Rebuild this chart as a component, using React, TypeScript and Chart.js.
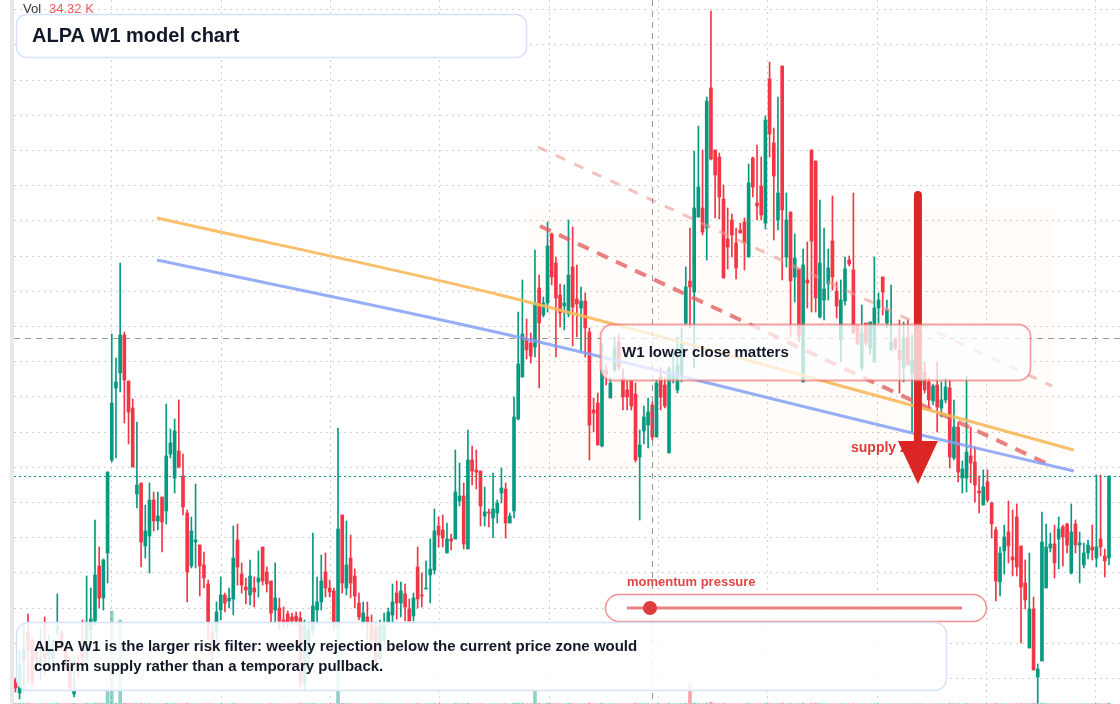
import React, { useEffect, useRef } from "react";
import { Chart, registerables } from "chart.js";
Chart.register(...registerables);

// Weekly candles (price in cents)
const OPEN = [
  24, 11, 44, 72, 62, 51, 39, 52, 49, 46,
  74, 71, 56, 41, 10, 42, 52, 46, 74, 83,
  138, 106, 151, 244, 316, 331, 369, 323, 296, 210,
  221, 158, 168, 204, 183, 207, 193, 250, 226, 253,
  228, 191, 138, 162, 159, 139, 120, 71, 72, 94,
  109, 103, 105, 164, 130, 117, 109, 116, 122, 157,
  132, 123, 94, 96, 84, 90, 87, 88, 86, 20,
  46, 74, 94, 102, 132, 116, 113, 82, 189, 116,
  146, 128, 101, 82, 87, 82, 77, 46, 64, 82,
  89, 111, 101, 110, 95, 88, 137, 109, 115, 129,
  134, 178, 174, 151, 165, 165, 203, 208, 155, 244,
  234, 233, 188, 192, 186, 191, 211, 215, 181, 193,
  285, 327, 364, 361, 357, 416, 389, 401, 470, 441,
  409, 398, 390, 437, 405, 396, 403, 372, 294, 301,
  258, 334, 306, 334, 362, 326, 314, 323, 310, 247,
  273, 279, 299, 267, 327, 319, 251, 324, 314, 327,
  381, 423, 412, 487, 496, 476, 616, 554, 547, 505,
  465, 484, 461, 474, 482, 447, 546, 501, 518, 481,
  625, 561, 484, 638, 447, 492, 427, 435, 322, 424,
  554, 543, 387, 404, 420, 463, 413, 364, 403, 444,
  434, 379, 336, 381, 356, 342, 396, 427, 381, 354,
  364, 354, 336, 366, 331, 349, 319, 332, 322, 303,
  319, 296, 304, 316, 246, 277, 226, 226, 248, 242,
  213, 199, 222, 201, 174, 122, 153, 172, 147, 187,
  158, 121, 56, 95, 27, 43, 116, 156, 160, 165,
  177, 180, 131, 180, 159, 139, 151, 157, 146, 165,
  148, 146,
];
const HIGH = [
  26, 54, 79, 90, 66, 56, 76, 87, 69, 64,
  110, 74, 59, 46, 47, 49, 84, 128, 116, 184,
  157, 145, 232, 370, 346, 441, 372, 323, 305, 282,
  221, 199, 221, 212, 212, 207, 300, 275, 285, 304,
  250, 194, 187, 220, 159, 152, 124, 79, 102, 127,
  111, 116, 178, 180, 141, 126, 144, 127, 153, 157,
  137, 123, 141, 106, 97, 93, 91, 92, 92, 84,
  82, 171, 127, 149, 151, 124, 116, 276, 189, 183,
  169, 135, 111, 102, 102, 89, 82, 84, 91, 96,
  120, 123, 122, 120, 105, 111, 157, 131, 143, 165,
  195, 187, 189, 181, 170, 254, 241, 221, 274, 258,
  254, 233, 217, 195, 231, 204, 236, 221, 191, 307,
  392, 424, 385, 371, 454, 429, 407, 482, 471, 447,
  420, 419, 484, 477, 439, 417, 411, 376, 306, 311,
  361, 339, 327, 367, 369, 335, 323, 323, 321, 274,
  298, 306, 302, 324, 336, 326, 337, 351, 367, 376,
  437, 476, 553, 578, 554, 607, 693, 554, 551, 519,
  496, 490, 476, 481, 486, 540, 547, 559, 547, 588,
  642, 576, 607, 638, 511, 492, 470, 435, 455, 462,
  554, 543, 504, 476, 455, 508, 422, 424, 447, 448,
  511, 379, 399, 381, 382, 447, 411, 427, 404, 419,
  366, 384, 382, 384, 369, 364, 359, 342, 326, 320,
  342, 322, 326, 324, 304, 282, 243, 328, 277, 257,
  228, 234, 234, 202, 177, 157, 179, 203, 194, 200,
  158, 144, 151, 107, 40, 192, 180, 171, 179, 187,
  179, 181, 200, 184, 172, 161, 164, 179, 229, 229,
  155, 228,
];
const LOW = [
  12, 5, 14, 21, 18, 32, 24, 29, 36, 39,
  69, 54, 36, 14, 7, 26, 42, 42, 64, 79,
  96, 94, 121, 242, 246, 312, 281, 260, 237, 196,
  137, 146, 131, 173, 174, 152, 180, 246, 211, 236,
  189, 102, 136, 136, 108, 116, 64, 44, 64, 84,
  92, 96, 89, 119, 111, 100, 99, 97, 107, 119,
  112, 82, 82, 74, 76, 76, 79, 79, 17, 14,
  39, 69, 79, 94, 107, 107, 74, 76, 111, 109,
  106, 96, 84, 79, 64, 54, 42, 44, 59, 79,
  82, 85, 87, 83, 83, 83, 96, 97, 115, 101,
  130, 157, 157, 151, 154, 165, 198, 155, 155, 219,
  215, 178, 178, 177, 166, 181, 201, 166, 181, 186,
  284, 327, 345, 341, 347, 316, 387, 392, 419, 347,
  377, 374, 387, 358, 367, 352, 347, 244, 272, 259,
  257, 319, 306, 332, 334, 294, 294, 294, 242, 184,
  260, 256, 264, 267, 294, 296, 251, 321, 311, 322,
  379, 376, 336, 487, 469, 444, 544, 486, 485, 426,
  435, 447, 425, 471, 434, 447, 507, 484, 484, 475,
  547, 464, 474, 424, 437, 367, 402, 362, 322, 396,
  392, 392, 386, 384, 404, 414, 386, 342, 399, 438,
  371, 359, 334, 359, 349, 342, 381, 389, 376, 354,
  354, 311, 322, 339, 272, 309, 304, 311, 294, 299,
  272, 287, 301, 236, 244, 222, 211, 212, 221, 202,
  191, 199, 202, 166, 103, 108, 130, 141, 128, 128,
  61, 95, 56, 34, 1, 43, 116, 152, 126, 135,
  138, 151, 130, 151, 121, 136, 145, 144, 137, 148,
  127, 139,
];
const CLOSE = [
  16, 39, 54, 54, 22, 44, 47, 46, 56, 51,
  77, 61, 44, 16, 14, 34, 46, 82, 85, 129,
  106, 144, 232, 301, 322, 369, 324, 292, 237, 219,
  162, 173, 204, 183, 188, 182, 248, 261, 273, 237,
  197, 132, 173, 164, 138, 126, 81, 51, 92, 109,
  101, 106, 146, 137, 119, 114, 128, 112, 126, 123,
  120, 91, 106, 83, 81, 82, 83, 83, 22, 79,
  74, 98, 102, 123, 116, 112, 82, 175, 121, 139,
  121, 108, 87, 91, 82, 64, 42, 79, 79, 92,
  102, 101, 113, 97, 83, 106, 105, 108, 116, 135,
  173, 169, 166, 165, 163, 212, 208, 160, 244, 233,
  232, 198, 192, 191, 195, 201, 216, 181, 188, 287,
  340, 370, 354, 348, 401, 381, 401, 458, 427, 406,
  391, 401, 429, 397, 400, 403, 376, 279, 291, 259,
  334, 330, 321, 356, 337, 307, 307, 298, 244, 259,
  287, 292, 267, 321, 307, 298, 335, 329, 339, 361,
  417, 417, 496, 517, 472, 603, 545, 529, 507, 426,
  457, 469, 436, 471, 461, 521, 517, 498, 489, 584,
  570, 528, 511, 494, 484, 423, 446, 369, 439, 421,
  463, 406, 441, 415, 436, 427, 398, 404, 435, 440,
  371, 361, 371, 361, 382, 396, 404, 412, 394, 362,
  356, 344, 366, 339, 344, 324, 344, 314, 304, 318,
  297, 304, 317, 247, 277, 232, 235, 252, 241, 219,
  211, 217, 204, 180, 123, 151, 167, 158, 144, 137,
  117, 104, 95, 34, 35, 162, 157, 160, 141, 175,
  167, 159, 172, 159, 161, 151, 159, 154, 157, 157,
  143, 228,
];
// volume in thousands
const VOLUME_K = [
  18, 22, 15, 20, 12, 9, 14, 16, 11, 10,
  19, 12, 13, 17, 21, 10, 14, 26, 15, 30,
  24, 20, 560, 3170, 24, 2860, 28, 22, 19, 16,
  21, 14, 18, 12, 11, 13, 20, 15, 17, 14,
  16, 22, 13, 12, 15, 11, 19, 14, 10, 12,
  9, 8, 17, 15, 11, 9, 12, 8, 10, 13,
  9, 14, 12, 10, 8, 7, 9, 8, 20, 18,
  11, 19, 10, 13, 12, 8, 15, 2760, 24, 16,
  14, 12, 10, 9, 11, 12, 16, 15, 10, 9,
  11, 10, 12, 9, 10, 11, 18, 9, 8, 12,
  20, 11, 10, 9, 8, 22, 12, 19, 26, 14,
  11, 16, 9, 8, 13, 9, 12, 15, 8, 30,
  28, 26, 13, 11, 480, 20, 10, 24, 18, 17,
  12, 10, 22, 18, 11, 10, 12, 30, 9, 16,
  24, 8, 10, 12, 11, 13, 9, 12, 22, 18,
  12, 11, 13, 15, 10, 9, 20, 8, 12, 14,
  22, 716, 30, 18, 16, 28, 60, 14, 13, 21,
  10, 9, 12, 7, 11, 20, 12, 13, 11, 24,
  19, 15, 17, 26, 12, 18, 10, 16, 22, 9,
  24, 27, 18, 10, 9, 12, 8, 14, 11, 7,
  18, 10, 13, 9, 12, 16, 8, 10, 9, 11,
  7, 12, 10, 9, 15, 10, 11, 9, 10, 8,
  13, 9, 8, 20, 14, 16, 8, 18, 9, 12,
  8, 10, 9, 12, 22, 14, 10, 11, 8, 15,
  18, 10, 16, 20, 24, 30, 14, 9, 10, 8,
  9, 8, 13, 9, 10, 8, 7, 9, 18, 12,
  10, 34.32,
];

// overlay lines (x = candle index, y = price)
const ORANGE_X = [33.8, 115.7, 211.1, 252.6];
const ORANGE_Y = [486, 409, 302, 254];
const BLUE_X = [33.8, 115.7, 211.1, 252.6];
const BLUE_Y = [444, 371, 274, 233];
const RED_DASH_X = [125.2, 247.4];
const RED_DASH_Y = [478, 238];
const PINK_DASH_X = [124.7, 247.4];
const PINK_DASH_Y = [557, 318];

// supply zone + arrow + crosshair
const ZONE_X = [122.1, 247.4];
const ZONE_Y = [497, 223];
const ARROW_X = 215.4;
const ARROW_FROM = 509;
const ARROW_HEAD = 263;
const ARROW_TIP = 220;
const CROSS_X = 152;
const CROSS_Y = 366;

// grid ticks
const GRID_X = [23, 49.1, 75.2, 101.3, 127.4, 153.5, 179.6, 205.7, 231.8, 257.9];
const GRID_Y = [694.4, 659.2, 624, 588.8, 553.6, 518.4, 483.2, 448, 412.8, 377.6, 342.4, 307.2, 272, 236.8, 201.6, 166.4, 131.2, 96, 60.8, 25.6];

const X_MIN = -0.334;
const X_MAX = 263.63;
const Y_MIN = 0;
const Y_MAX = 704;
const VOL_MAX = 24000;

const TEAL = "#089981";
const RED = "#f23645";
const FONT = '"Liberation Sans", Arial, Helvetica, sans-serif';

function rr(ctx: CanvasRenderingContext2D, x: number, y: number, w: number, h: number, r: number) {
  ctx.beginPath();
  ctx.moveTo(x + r, y);
  ctx.lineTo(x + w - r, y);
  ctx.arcTo(x + w, y, x + w, y + r, r);
  ctx.lineTo(x + w, y + h - r);
  ctx.arcTo(x + w, y + h, x + w - r, y + h, r);
  ctx.lineTo(x + r, y + h);
  ctx.arcTo(x, y + h, x, y + h - r, r);
  ctx.lineTo(x, y + r);
  ctx.arcTo(x, y, x + r, y, r);
  ctx.closePath();
}

const overlayPlugin = {
  id: "overlay",
  beforeDraw(chart: any) {
    const ctx = chart.ctx as CanvasRenderingContext2D;
    ctx.save();
    ctx.fillStyle = "#ffffff";
    ctx.fillRect(0, 0, chart.width, chart.height);
    ctx.fillStyle = "#e8e8e8";
    ctx.fillRect(10, 0, 4, chart.height);
    ctx.restore();
  },
  beforeDatasetsDraw(chart: any) {
    const ctx = chart.ctx as CanvasRenderingContext2D;
    const { x, y } = chart.scales;
    ctx.save();
    const x0 = x.getPixelForValue(ZONE_X[0]);
    const x1 = x.getPixelForValue(ZONE_X[1]);
    const y0 = y.getPixelForValue(ZONE_Y[0]);
    const y1 = y.getPixelForValue(ZONE_Y[1]);
    rr(ctx, x0, y0, x1 - x0, y1 - y0, 12);
    ctx.fillStyle = "rgba(249,115,22,0.022)";
    ctx.fill();
    ctx.restore();
  },
  afterDatasetsDraw(chart: any) {
    const ctx = chart.ctx as CanvasRenderingContext2D;
    const { x, y } = chart.scales;
    const area = chart.chartArea;
    ctx.save();

    // crosshair
    ctx.strokeStyle = "rgba(120,120,120,0.75)";
    ctx.lineWidth = 1;
    ctx.setLineDash([6, 5]);
    const cx = Math.round(x.getPixelForValue(CROSS_X)) + 0.5;
    ctx.beginPath();
    ctx.moveTo(cx, area.top);
    ctx.lineTo(cx, area.bottom);
    ctx.stroke();
    const cy = Math.round(y.getPixelForValue(CROSS_Y)) + 0.5;
    ctx.beginPath();
    ctx.moveTo(area.left, cy);
    ctx.lineTo(area.right, cy);
    ctx.stroke();

    // last price line
    const py = Math.round(y.getPixelForValue(CLOSE[CLOSE.length - 1])) + 0.5;
    ctx.strokeStyle = TEAL;
    ctx.setLineDash([2, 3]);
    ctx.beginPath();
    ctx.moveTo(area.left, py);
    ctx.lineTo(area.right, py);
    ctx.stroke();
    ctx.setLineDash([]);

    // supply zone label
    ctx.font = `bold 14px ${FONT}`;
    ctx.fillStyle = "#e03a3a";
    ctx.textBaseline = "middle";
    ctx.textAlign = "left";
    ctx.fillText("supply zone", 851, 448);

    // arrow
    const ax = x.getPixelForValue(ARROW_X);
    const ay0 = y.getPixelForValue(ARROW_FROM);
    const ayh = y.getPixelForValue(ARROW_HEAD);
    const ayt = y.getPixelForValue(ARROW_TIP);
    ctx.strokeStyle = "#dc2626";
    ctx.fillStyle = "#dc2626";
    ctx.lineWidth = 8;
    ctx.lineCap = "round";
    ctx.beginPath();
    ctx.moveTo(ax, ay0);
    ctx.lineTo(ax, ayh + 2);
    ctx.stroke();
    ctx.lineCap = "butt";
    ctx.beginPath();
    ctx.moveTo(ax - 20, ayh);
    ctx.lineTo(ax + 20, ayh);
    ctx.lineTo(ax, ayt);
    ctx.closePath();
    ctx.fill();

    // W1 box
    rr(ctx, 600.5, 324.5, 430, 56, 12);
    ctx.fillStyle = "rgba(255,255,255,0.74)";
    ctx.fill();
    ctx.strokeStyle = "rgba(234,100,100,0.6)";
    ctx.lineWidth = 1.8;
    ctx.stroke();
    ctx.font = `bold 15px ${FONT}`;
    ctx.fillStyle = "#111827";
    ctx.fillText("W1 lower close matters", 622, 353);

    // momentum pressure
    ctx.font = `bold 13px ${FONT}`;
    ctx.fillStyle = "#e04646";
    ctx.fillText("momentum pressure", 627, 582);
    rr(ctx, 605.5, 594.5, 381, 27, 13.5);
    ctx.fillStyle = "rgba(255,255,255,0.9)";
    ctx.fill();
    ctx.strokeStyle = "rgba(234,100,100,0.7)";
    ctx.lineWidth = 1.5;
    ctx.stroke();
    ctx.strokeStyle = "rgba(228,90,90,0.75)";
    ctx.lineWidth = 3;
    ctx.beginPath();
    ctx.moveTo(627, 608);
    ctx.lineTo(962, 608);
    ctx.stroke();
    ctx.fillStyle = "#e03c3c";
    ctx.beginPath();
    ctx.arc(650, 608, 7, 0, Math.PI * 2);
    ctx.fill();

    // bottom note
    rr(ctx, 16.5, 622.5, 930, 68, 12);
    ctx.fillStyle = "rgba(255,255,255,0.86)";
    ctx.fill();
    ctx.strokeStyle = "#d6e2fa";
    ctx.lineWidth = 1.5;
    ctx.stroke();
    ctx.font = `bold 15px ${FONT}`;
    ctx.fillStyle = "#111827";
    ctx.fillText("ALPA W1 is the larger risk filter: weekly rejection below the current price zone would", 34, 647);
    ctx.fillText("confirm supply rather than a temporary pullback.", 34, 667);

    // title
    rr(ctx, 16.5, 14.5, 510, 43, 10);
    ctx.fillStyle = "rgba(255,255,255,0.94)";
    ctx.fill();
    ctx.strokeStyle = "#d6e2fa";
    ctx.lineWidth = 1.5;
    ctx.stroke();
    ctx.font = `bold 20px ${FONT}`;
    ctx.fillStyle = "#111827";
    ctx.fillText("ALPA W1 model chart", 32, 36);

    // volume legend
    ctx.font = `13px ${FONT}`;
    ctx.fillStyle = "#333333";
    ctx.fillText("Vol", 23, 9);
    ctx.fillStyle = "#f05a5a";
    ctx.fillText(`${VOLUME_K[VOLUME_K.length - 1].toFixed(2)} K`, 49, 9);

    ctx.restore();
  },
};

export default function App() {
  const ref = useRef<HTMLCanvasElement | null>(null);
  useEffect(() => {
    if (!ref.current) return;
    const up = OPEN.map((o, i) => CLOSE[i] >= o);
    const candleColors = up.map((u) => (u ? TEAL : RED));
    const volColors = up.map((u) => (u ? "rgba(8,153,129,0.45)" : "rgba(242,54,69,0.45)"));
    const gridCommon = {
      color: "#d2d2d2",
      lineWidth: 1,
      drawTicks: false,
      offset: false,
    };
    const chart = new Chart(ref.current, {
      type: "bar",
      data: {
        datasets: [
          {
            type: "line",
            label: "orange",
            data: ORANGE_X.map((v, k) => ({ x: v, y: ORANGE_Y[k] })),
            borderColor: "rgba(250,184,90,0.9)",
            borderWidth: 3,
            pointRadius: 0,
            cubicInterpolationMode: "monotone",
            order: 1,
          } as any,
          {
            type: "line",
            label: "blue",
            data: BLUE_X.map((v, k) => ({ x: v, y: BLUE_Y[k] })),
            borderColor: "rgba(130,160,245,0.85)",
            borderWidth: 3,
            pointRadius: 0,
            cubicInterpolationMode: "monotone",
            order: 1,
          } as any,
          {
            type: "line",
            label: "red dash",
            data: RED_DASH_X.map((v, k) => ({ x: v, y: RED_DASH_Y[k] })),
            borderColor: "rgba(228,92,92,0.78)",
            borderWidth: 4,
            borderDash: [12, 9],
            pointRadius: 0,
            order: 1,
          } as any,
          {
            type: "line",
            label: "pink dash",
            data: PINK_DASH_X.map((v, k) => ({ x: v, y: PINK_DASH_Y[k] })),
            borderColor: "rgba(238,150,150,0.6)",
            borderWidth: 3,
            borderDash: [10, 10],
            pointRadius: 0,
            order: 1,
          } as any,
          {
            type: "bar",
            label: "body",
            data: OPEN.map((o, i) => ({ x: i, y: [o, CLOSE[i]] })),
            backgroundColor: candleColors,
            barThickness: 3,
            minBarLength: 1,
            grouped: false,
            borderWidth: 0,
            order: 3,
          } as any,
          {
            type: "bar",
            label: "wick",
            data: LOW.map((l, i) => ({ x: i, y: [l, HIGH[i]] })),
            backgroundColor: candleColors,
            barThickness: 1,
            grouped: false,
            borderWidth: 0,
            order: 4,
          } as any,
          {
            type: "bar",
            label: "volume",
            yAxisID: "v",
            data: VOLUME_K.map((v, i) => ({ x: i, y: v })),
            backgroundColor: volColors,
            barThickness: 3,
            grouped: false,
            borderWidth: 0,
            order: 5,
          } as any,
        ],
      },
      options: {
        animation: false,
        responsive: false,
        maintainAspectRatio: false,
        devicePixelRatio: 1,
        events: [],
        layout: { padding: { left: 14, right: 0, top: 0, bottom: 0 } },
        plugins: { legend: { display: false }, tooltip: { enabled: false } },
        scales: {
          x: {
            type: "linear",
            min: X_MIN,
            max: X_MAX,
            offset: false,
            ticks: { display: false },
            grid: gridCommon,
            border: { display: false, dash: [2, 4] },
            afterBuildTicks: (axis: any) => {
              axis.ticks = GRID_X.map((v) => ({ value: v }));
            },
          },
          y: {
            type: "linear",
            min: Y_MIN,
            max: Y_MAX,
            ticks: { display: false },
            grid: gridCommon,
            border: { display: false, dash: [2, 4] },
            afterBuildTicks: (axis: any) => {
              axis.ticks = GRID_Y.map((v) => ({ value: v }));
            },
          },
          v: {
            type: "linear",
            display: false,
            min: 0,
            max: VOL_MAX,
          },
        },
      } as any,
      plugins: [overlayPlugin],
    });
    return () => chart.destroy();
  }, []);
  return (
    <div style={{ position: "absolute", left: 0, top: 0, width: 1120, height: 704, background: "#fff" }}>
      <canvas ref={ref} width={1120} height={704} style={{ display: "block", width: 1120, height: 704 }} />
    </div>
  );
}
